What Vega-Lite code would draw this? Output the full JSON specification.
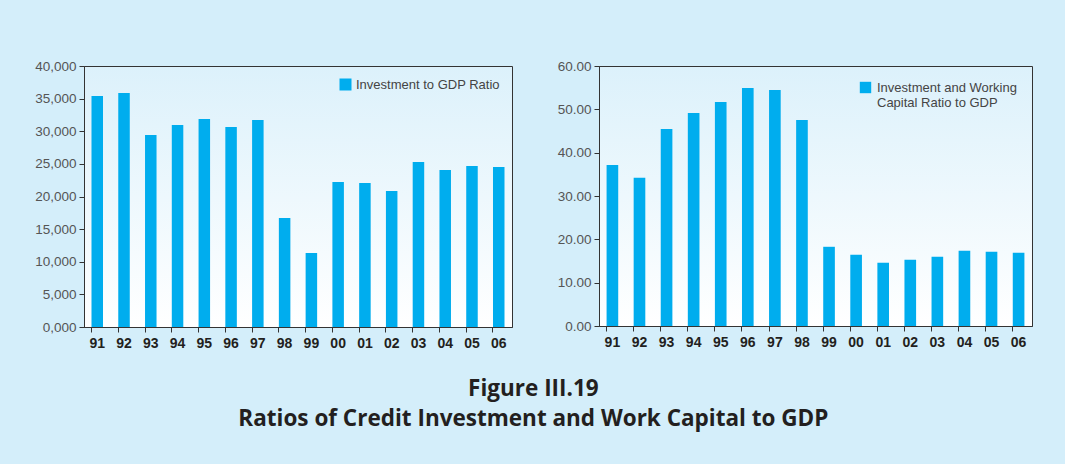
{
  "$schema": "https://vega.github.io/schema/vega-lite/v6.json",
  "background": "#d4eefa",
  "padding": {"left": 34, "top": 58, "right": 34, "bottom": 37},
  "spacing": 43,
  "title": {
    "text": ["Figure III.19", "Ratios of Credit Investment and Work Capital to GDP"],
    "orient": "bottom",
    "anchor": "middle",
    "fontSize": 22.5,
    "fontWeight": "bold",
    "font": "Open Sans",
    "color": "#231f20",
    "lineHeight": 30,
    "offset": 27
  },
  "config": {
    "font": "Liberation Sans",
    "view": {
      "stroke": "#333333",
      "strokeWidth": 1,
      "fill": {"gradient": "linear", "x1": 0, "y1": 0, "x2": 0, "y2": 1, "stops": [{"offset": 0, "color": "#dcf1fb"}, {"offset": 1, "color": "#ffffff"}]}
    },
    "axis": {
      "domainColor": "#333333",
      "tickColor": "#333333",
      "grid": false,
      "title": null
    },
    "axisX": {
      "labelFont": "Liberation Sans",
      "labelFontSize": 14,
      "labelFontWeight": "bold",
      "labelColor": "#231f20",
      "labelAngle": 0,
      "tickSize": 5,
      "labelPadding": 4,
      "bandPosition": 0
    },
    "axisY": {
      "labelFontSize": 13.5,
      "labelColor": "#555555",
      "tickSize": 5,
      "labelPadding": 3
    },
    "legend": {
      "orient": "top-right",
      "offset": 12,
      "title": null,
      "symbolType": "square",
      "symbolSize": 144,
      "symbolStrokeWidth": 0,
      "labelFontSize": 13,
      "labelColor": "#444444",
      "padding": 0
    }
  },
  "hconcat": [
    {
      "width": 428,
      "height": 261,
      "data": {"values": [
        {"year": "91", "value": 35.40, "series": "Investment to GDP Ratio"},
        {"year": "92", "value": 35.86, "series": "Investment to GDP Ratio"},
        {"year": "93", "value": 29.43, "series": "Investment to GDP Ratio"},
        {"year": "94", "value": 30.96, "series": "Investment to GDP Ratio"},
        {"year": "95", "value": 31.88, "series": "Investment to GDP Ratio"},
        {"year": "96", "value": 30.65, "series": "Investment to GDP Ratio"},
        {"year": "97", "value": 31.72, "series": "Investment to GDP Ratio"},
        {"year": "98", "value": 16.70, "series": "Investment to GDP Ratio"},
        {"year": "99", "value": 11.34, "series": "Investment to GDP Ratio"},
        {"year": "00", "value": 22.22, "series": "Investment to GDP Ratio"},
        {"year": "01", "value": 22.07, "series": "Investment to GDP Ratio"},
        {"year": "02", "value": 20.84, "series": "Investment to GDP Ratio"},
        {"year": "03", "value": 25.29, "series": "Investment to GDP Ratio"},
        {"year": "04", "value": 24.06, "series": "Investment to GDP Ratio"},
        {"year": "05", "value": 24.67, "series": "Investment to GDP Ratio"},
        {"year": "06", "value": 24.52, "series": "Investment to GDP Ratio"}
      ]},
      "mark": {"type": "bar"},
      "encoding": {
        "x": {"field": "year", "type": "nominal", "sort": null,
              "scale": {"paddingInner": 0.57, "paddingOuter": 0.28}},
        "y": {"field": "value", "type": "quantitative",
              "scale": {"domain": [0, 40], "nice": false},
              "axis": {"values": [0, 5, 10, 15, 20, 25, 30, 35, 40],
                       "labelExpr": "replace(format(datum.value, ',.3f'), '.', ',')"}},
        "color": {"field": "series", "type": "nominal",
                  "scale": {"range": ["#00adee"]}}
      }
    },
    {
      "width": 433,
      "height": 260,
      "data": {"values": [
        {"year": "91", "value": 37.18, "series": "Investment and Working Capital Ratio to GDP"},
        {"year": "92", "value": 34.19, "series": "Investment and Working Capital Ratio to GDP"},
        {"year": "93", "value": 45.48, "series": "Investment and Working Capital Ratio to GDP"},
        {"year": "94", "value": 49.17, "series": "Investment and Working Capital Ratio to GDP"},
        {"year": "95", "value": 51.70, "series": "Investment and Working Capital Ratio to GDP"},
        {"year": "96", "value": 54.93, "series": "Investment and Working Capital Ratio to GDP"},
        {"year": "97", "value": 54.47, "series": "Investment and Working Capital Ratio to GDP"},
        {"year": "98", "value": 47.55, "series": "Investment and Working Capital Ratio to GDP"},
        {"year": "99", "value": 18.28, "series": "Investment and Working Capital Ratio to GDP"},
        {"year": "00", "value": 16.44, "series": "Investment and Working Capital Ratio to GDP"},
        {"year": "01", "value": 14.60, "series": "Investment and Working Capital Ratio to GDP"},
        {"year": "02", "value": 15.29, "series": "Investment and Working Capital Ratio to GDP"},
        {"year": "03", "value": 15.98, "series": "Investment and Working Capital Ratio to GDP"},
        {"year": "04", "value": 17.36, "series": "Investment and Working Capital Ratio to GDP"},
        {"year": "05", "value": 17.13, "series": "Investment and Working Capital Ratio to GDP"},
        {"year": "06", "value": 16.90, "series": "Investment and Working Capital Ratio to GDP"}
      ]},
      "mark": {"type": "bar"},
      "encoding": {
        "x": {"field": "year", "type": "nominal", "sort": null,
              "scale": {"paddingInner": 0.57, "paddingOuter": 0.28}},
        "y": {"field": "value", "type": "quantitative",
              "scale": {"domain": [0, 60], "nice": false},
              "axis": {"values": [0, 10, 20, 30, 40, 50, 60], "format": ".2f"}},
        "color": {"field": "series", "type": "nominal",
                  "scale": {"range": ["#00adee"]},
                  "legend": {"offset": 15, "labelBaseline": "middle", "labelOffset": 5,
                             "symbolSize": 130,
                             "labelExpr": "['Investment and Working', 'Capital Ratio to GDP']"}}
      }
    }
  ],
  "resolve": {"scale": {"color": "independent"}}
}
